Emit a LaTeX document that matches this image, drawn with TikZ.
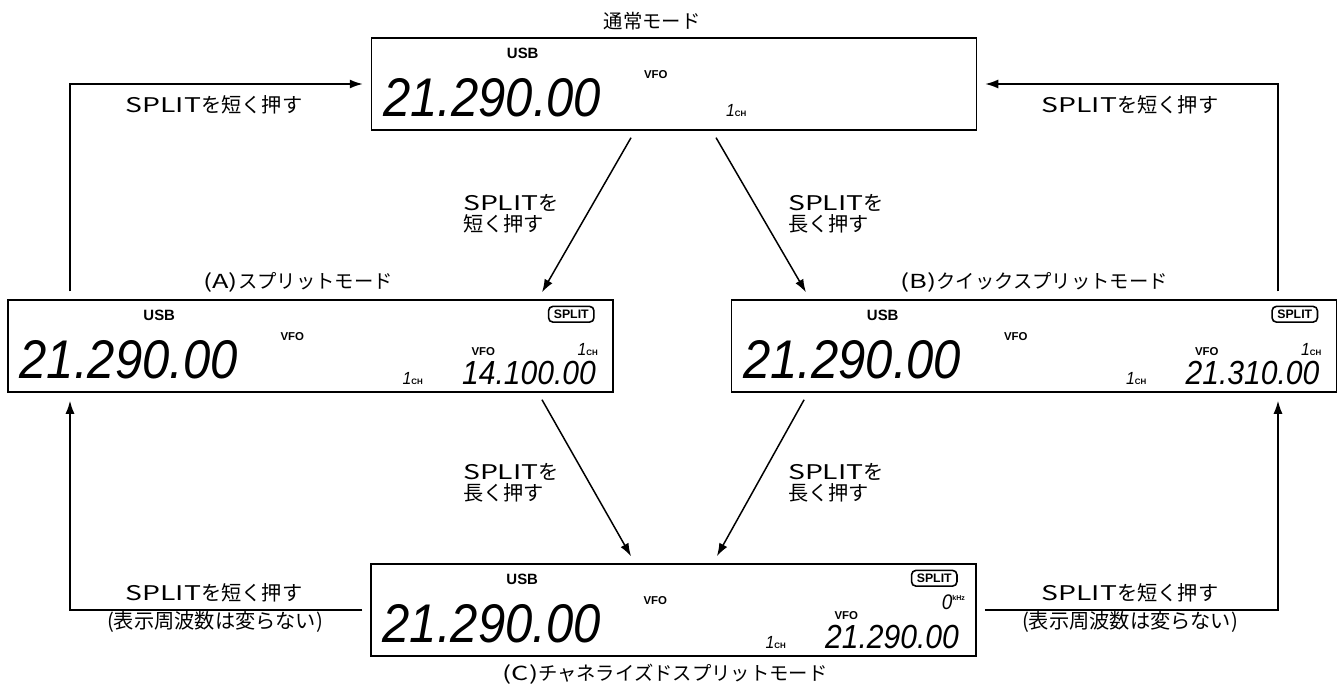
\documentclass[tikz,border=0pt]{standalone}
\usepackage{fontspec}
\setmainfont{Noto Sans CJK JP}
\newfontfamily\widefont[FakeStretch=1.4]{Noto Sans CJK JP}
\newfontfamily\lcdfont[FakeStretch=0.9]{Liberation Sans}
\newfontfamily\segfont{Liberation Sans}
\usetikzlibrary{positioning,arrows.meta}
\newcommand{\splitkey}{{\widefont SPLIT}}
\newcommand{\chmark}{{\lcdfont\itshape\fontsize{10pt}{10pt}\selectfont 1}{\segfont\bfseries\fontsize{4.5pt}{5pt}\selectfont CH}}
\tikzset{
  lcdbox/.style={draw, line width=0.85pt, minimum width=121mm, minimum height=18.4mm, inner sep=0pt},
  modename/.style={font=\fontsize{11pt}{12pt}\selectfont, inner sep=0pt},
  keylbl/.style={font=\fontsize{11.5pt}{11.8pt}\selectfont, align=left, inner sep=0pt},
  arr/.style={-{Latex[length=2.6mm,width=1.8mm]}, line width=0.85pt, shorten <=1.6mm, shorten >=1.6mm},
  usbtxt/.style={font=\segfont\bfseries\fontsize{8.5pt}{9pt}\selectfont, inner sep=0pt},
  vfotxt/.style={font=\segfont\bfseries\fontsize{6.5pt}{7pt}\selectfont, inner sep=0pt},
  bigdig/.style={font=\lcdfont\itshape\fontsize{31pt}{31pt}\selectfont, inner sep=0pt},
  subdig/.style={font=\lcdfont\itshape\fontsize{19pt}{19pt}\selectfont, inner sep=0pt},
  splitbadge/.style={draw, rounded corners=2.5pt, line width=0.9pt, font=\segfont\bfseries\fontsize{7pt}{7pt}\selectfont, inner xsep=3pt, inner ysep=2pt},
  chtxt/.style={inner sep=0pt},
}
\begin{document}
\begin{tikzpicture}[x=0.2mm, y=-0.2mm]
\useasboundingbox[fill=white] (0,0) rectangle (1341,688);
% Anzeigen
\node[lcdbox] (top) at (674,84) {};
\node[lcdbox] (spA) at (310.5,346) {};
\node[lcdbox] (spB) at (1034,346) {};
\node[lcdbox] (spC) at (673.5,610) {};
% Namen der Betriebsarten
\node[modename, above=1.3mm of top, xshift=-4.4mm] (topname) {通常モード};
\node[modename, above=1.3mm of spA, xshift=-2.5mm] (nameA) {{\widefont(A)}スプリットモード};
\node[modename, above=1.3mm of spB] (nameB) {{\widefont(B)}クイックスプリットモード};
\node[modename, below=1.3mm of spC, xshift=-1.7mm] (nameC) {{\widefont(C)}チャネライズドスプリットモード};
% Inhalt der Anzeigen
\foreach \b in {top,spA,spB,spC}{
  \begin{scope}[shift={(\b.north west)}]
    \node[usbtxt] (\b-usb) at (152,16) {USB};
    \node[bigdig, anchor=west] (\b-frq) at (12,60) {21.290.00};
    \node[vfotxt] (\b-vfo) at (285,37) {VFO};
  \end{scope}
}
\begin{scope}[shift={(top.north west)}]
  \node[chtxt, anchor=base west] (top-ch) at (355,79) {\chmark};
\end{scope}
\foreach \b/\f in {spA/14.100.00, spB/21.310.00, spC/21.290.00}{
  \begin{scope}[shift={(\b.north west)}]
    \node[splitbadge] (\b-sp) at (564,15) {SPLIT};
    \node[vfotxt] (\b-vfo2) at (476,52) {VFO};
    \node[chtxt, anchor=base west] (\b-ch) at (395,85) {\chmark};
    \node[subdig, anchor=base east] (\b-sub) at (589,85) {\f};
  \end{scope}
}
\foreach \b in {spA,spB}{
  \begin{scope}[shift={(\b.north west)}]
    \node[chtxt, anchor=base east] (\b-ch2) at (591,56) {\chmark};
  \end{scope}
}
\begin{scope}[shift={(spC.north west)}]
  \node[chtxt, anchor=base east] (spC-khz) at (595,46) {{\lcdfont\itshape\fontsize{12pt}{12pt}\selectfont 0}{\segfont\bfseries\fontsize{4pt}{4pt}\selectfont\raisebox{5pt}{kHz}}};
\end{scope}
% Tastenbeschriftungen
\node[keylbl] (kTL) at (214,105) {\splitkey を短く押す};
\node[keylbl] (kTR) at (1130,105) {\splitkey を短く押す};
\node[keylbl] (kAd) at (511,214) {\splitkey を\\短く押す};
\node[keylbl] (kBd) at (836,214) {\splitkey を\\長く押す};
\node[keylbl] (kAC) at (511,483) {\splitkey を\\長く押す};
\node[keylbl] (kBC) at (836,483) {\splitkey を\\長く押す};
\node[keylbl] (kBL) at (214,593) {\splitkey を短く押す};
\node[keylbl] (nBL) at (215,622) {(表示周波数は変らない)};
\node[keylbl] (kBR) at (1130,593) {\splitkey を短く押す};
\node[keylbl] (nBR) at (1130,622) {(表示周波数は変らない)};
% Pfeile
\coordinate (lx) at (70,0);
\coordinate (rx) at (1278,0);
\draw[arr] (spA.north -| lx) |- (top.west);
\draw[arr] (spB.north -| rx) |- (top.east);
\draw[arr] (spC.west) -| (spA.south -| lx);
\draw[arr] (spC.east) -| (spB.south -| rx);
\draw[arr] ([xshift=-7.8mm]top.south) -- ([xshift=45.5mm]spA.north);
\draw[arr] ([xshift=7.6mm]top.south) -- ([xshift=-44.8mm]spB.north);
\draw[arr] ([xshift=45.5mm]spA.south) -- ([xshift=-7.7mm]spC.north);
\draw[arr] ([xshift=-45.2mm]spB.south) -- ([xshift=7.9mm]spC.north);
\end{tikzpicture}
\end{document}
